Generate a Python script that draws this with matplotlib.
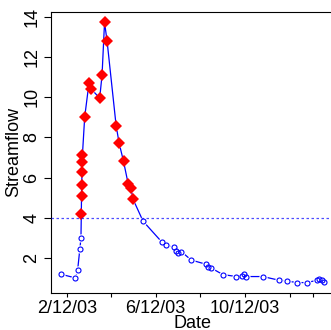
import matplotlib
matplotlib.use("Agg")
import matplotlib.pyplot as plt
import matplotlib.dates as mdates
import numpy as np
import pandas as pd

plt.rcParams['font.family'] = ['Liberation Sans', 'DejaVu Sans']

dates = [
    "2003-02-04", "2003-02-23", "2003-02-26", "2003-03-01", "2003-03-02 12:00",
    "2003-03-03 00:00", "2003-03-03 06:00", "2003-03-03 12:00", "2003-03-04 00:00",
    "2003-03-04 06:00", "2003-03-04 12:00", "2003-03-07 14:00", "2003-03-13 12:00",
    "2003-03-16 12:00", "2003-03-28", "2003-03-31 05:00", "2003-04-03 14:00",
    "2003-04-07", "2003-04-19 08:00", "2003-04-23 10:00", "2003-04-29 10:00",
    "2003-05-05 16:00", "2003-05-09 10:00", "2003-05-12 12:00", "2003-05-26",
    "2003-06-20 16:00", "2003-06-25 16:00", "2003-07-07 12:00", "2003-07-09 16:00",
    "2003-07-12", "2003-07-17", "2003-07-30 14:00", "2003-08-19 16:00",
    "2003-08-22", "2003-08-26", "2003-09-11 12:00", "2003-09-30", "2003-10-07 20:00",
    "2003-10-10", "2003-10-13", "2003-11-05", "2003-11-26 20:00", "2003-12-08",
    "2003-12-20 20:00", "2004-01-04", "2004-01-18", "2004-01-21", "2004-01-24 12:00",
    "2004-01-26 14:00",
]
flow = [
    1.20, 1.02, 1.42, 2.46, 3.00,
    4.22, 5.08, 5.64, 6.30,
    6.80, 7.13, 9.01, 10.72,
    10.40, 9.95, 11.10, 13.71,
    12.80, 8.59, 7.72, 6.81,
    5.71, 5.50, 4.92, 3.84,
    2.80, 2.65, 2.55, 2.34,
    2.28, 2.33, 1.91, 1.70,
    1.58, 1.53, 1.19, 1.09, 1.14,
    1.20, 1.09, 1.09, 0.91, 0.87,
    0.79, 0.79, 0.91, 0.99, 0.92,
    0.84,
]
threshold = 4.0

tick_dates = ["2003-02-12", "2003-04-12", "2003-06-12", "2003-08-12",
              "2003-10-12", "2003-12-12", "2004-01-12"]
tick_labels = ["2/12/03", "", "6/12/03", "", "10/12/03", "", ""]
y_ticks = [2, 4, 6, 8, 10, 12, 14]

t = mdates.date2num(pd.to_datetime(dates, format='mixed').to_pydatetime())
v = np.array(flow)
high = v > threshold

W, H = 331, 330
fig = plt.figure(figsize=(W/100, H/100), dpi=100)
ax = fig.add_axes([51/W, (H-293)/H, (334-51)/W, (293-12)/H])

# line with gaps around points (R type="b")
ax.plot(t, v, color='blue', lw=0.9, zorder=2)
ax.plot(t, v, 'o', ms=6.0, mfc='white', mec='white', mew=0, zorder=3)
ax.plot(t[~high], v[~high], 'o', ms=3.6, mfc='none', mec='blue', mew=0.8, zorder=4)
ax.plot(t[high], v[high], 'D', ms=6.6, mfc='red', mec='red', mew=0, zorder=5)
ax.axhline(threshold, color='blue', lw=0.9, ls=(0, (2, 2)), alpha=0.7, zorder=6)

xr = t.max() - t.min()
yr = v.max() - v.min()
ax.set_xlim(t.min() - 0.04*xr, t.max() + 0.04*xr)
ax.set_ylim(v.min() - 0.04*yr, v.max() + 0.04*yr)

ax.set_xticks(mdates.date2num(pd.to_datetime(tick_dates).to_pydatetime()))
ax.set_xticklabels(tick_labels, fontsize=13)
ax.set_yticks(y_ticks)
ax.set_yticklabels([str(y) for y in y_ticks], fontsize=13, rotation=90, va='center')
ax.tick_params(axis='x', length=3, width=0.8, pad=2)
ax.tick_params(axis='y', length=5, width=0.8, pad=2.5)
for s in ax.spines.values():
    s.set_linewidth(0.8)

fig.text(192/W, 1 - 323/H, "Date", fontsize=13, ha='center', va='center')
fig.text(13.5/W, 1 - 152/H, "Streamflow", fontsize=13, ha='center', va='center',
         rotation=90)

fig.savefig("out.png", dpi=100)
